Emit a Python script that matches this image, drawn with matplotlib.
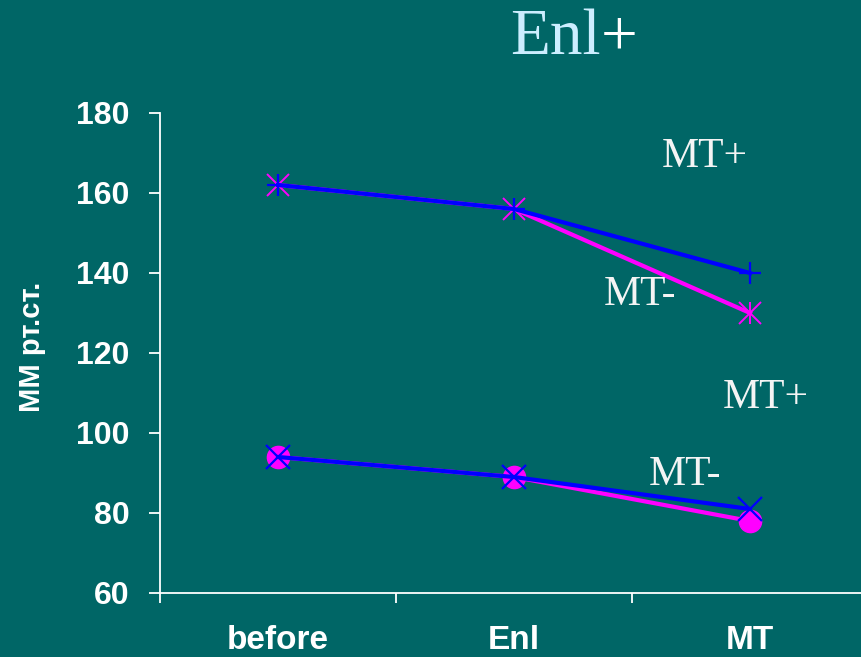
import matplotlib
matplotlib.use("Agg")
import matplotlib.pyplot as plt

categories = ["before", "Enl", "MT"]
upper_mt_plus = [162, 156, 140]
upper_mt_minus = [162, 156, 130]
lower_mt_plus = [94, 89, 81]
lower_mt_minus = [94, 89, 78]
yticks = [60, 80, 100, 120, 140, 160, 180]

BG = "#006666"
BLUE = "#0000FF"
MAG = "#FF00FF"

W, H = 861, 657
fig = plt.figure(figsize=(W / 100, H / 100), dpi=100, facecolor=BG)
ax = fig.add_axes([160 / W, 1 - 593 / H, 708 / W, 480 / H], facecolor=BG)

x = list(range(len(categories)))

# upper pair
ax.plot(x, upper_mt_minus, color=MAG, lw=3, marker="x", ms=16, mew=1.4, zorder=3)
ax.plot(x, upper_mt_minus, ls="none", color=MAG, marker="|", ms=16, mew=1.4, zorder=3)
ax.plot(x, upper_mt_plus, color=BLUE, lw=3, marker="+", ms=16, mew=1.6, zorder=4)

# lower pair
ax.plot(x, lower_mt_minus, color=MAG, lw=3, marker="o", ms=16, mec=MAG, zorder=3)
ax.plot(x, lower_mt_plus, color=BLUE, lw=3, marker="x", ms=17, mew=1.6, zorder=4)

ax.set_xlim(-0.5, 2.5)
ax.set_ylim(60, 180)
ax.set_yticks(yticks)

for s in ["top", "right"]:
    ax.spines[s].set_visible(False)
for s in ["left", "bottom"]:
    ax.spines[s].set_color("white")
    ax.spines[s].set_linewidth(1.3)
ax.spines["bottom"].set_clip_on(False)

ax.tick_params(axis="y", direction="out", length=8, width=1.3, color="white",
               labelcolor="white", labelsize=23, pad=14)
for lab in ax.get_yticklabels():
    lab.set_fontweight("bold")
    lab.set_family("Liberation Sans")

ax.set_xticks([-0.5, 0.5, 1.5, 2.5])
ax.set_xticklabels([])
ax.set_xticks(x, minor=True)
ax.set_xticklabels(categories, minor=True)
ax.tick_params(axis="x", which="major", direction="out", length=7, width=1.3, color="white")
ax.tick_params(axis="x", which="minor", length=0, labelcolor="white", labelsize=24, pad=23)
for lab in ax.get_xticklabels(minor=True):
    lab.set_fontweight("bold")
    lab.set_family("Liberation Sans")

fig.text(32 / W, 1 - 347 / H, "ММ рт.ст.", rotation=90, ha="center", va="center",
         color="white", fontsize=21, fontweight="bold", family="Liberation Sans")

# title
fig.text(601 / W, 1 - 54 / H, "Enl", ha="right", va="baseline", color="#CCEEFF",
         fontsize=47, family="Liberation Serif")
fig.text(601 / W, 1 - 54 / H, "+", ha="left", va="baseline", color="white",
         fontsize=47, family="Liberation Serif")

# series labels
labels = [("MT+", 705, 167), ("MT-", 640, 305), ("MT+", 766, 408), ("MT-", 685, 485)]
for t, px, py in labels:
    fig.text(px / W, 1 - py / H, t, ha="center", va="baseline", color="#F4F4F4",
             fontsize=30, family="Liberation Serif")

fig.savefig("out.png", dpi=100, facecolor=BG)
